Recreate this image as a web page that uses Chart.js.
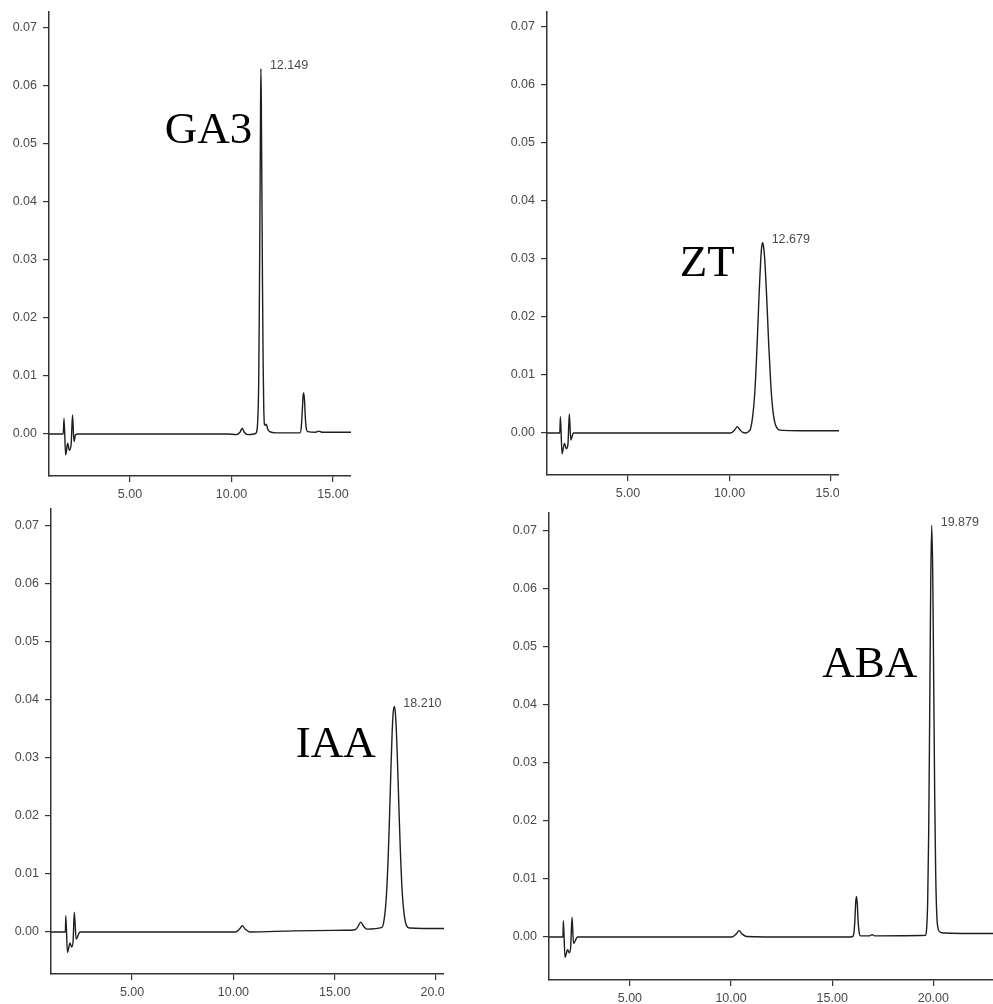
<!DOCTYPE html>
<html>
<head>
<meta charset="utf-8">
<script src="https://cdn.jsdelivr.net/npm/chart.js@4.4.1/dist/chart.umd.min.js"></script>
<style>
    html, body { margin: 0; padding: 0; background: #fff; }
    #page { position: relative; width: 993px; height: 1004px; overflow: hidden; }
    #page canvas { position: absolute; }
</style>
</head>
<body>
<div id="page">
    <canvas id="ga3Chart"></canvas>
    <canvas id="ztChart"></canvas>
    <canvas id="iaaChart"></canvas>
    <canvas id="abaChart"></canvas>
</div>
<script>
// retention time (min) and absorbance (AU)
var ga3Time = [1.0, 1.71, 1.75, 1.83, 1.93, 2.01, 2.10, 2.17, 2.24, 2.31, 2.40, 6.0, 9.8, 10.25, 10.42, 10.53, 10.63, 10.80, 11.10,
    11.22, 11.26, 11.30, 11.34, 11.37, 11.40, 11.43, 11.45, 11.47, 11.50, 11.53, 11.56, 11.59, 11.63, 11.68, 11.72, 11.78, 11.88, 12.20,
    13.38, 13.44, 13.49, 13.53, 13.56, 13.60, 13.64, 13.69, 13.76, 14.15, 14.30, 14.45, 15.9];
var ga3Abs = [0, 0, 0.0027, -0.0036, -0.0016, -0.0028, -0.0018, 0.0033, -0.0013, -0.0002, 0, 0, 0, -0.0001, 0.0003, 0.0010, 0.0003, -0.0001, 0,
    0.0002, 0.0007, 0.0027, 0.0085, 0.0200, 0.0360, 0.0535, 0.0630, 0.0575, 0.0415, 0.0255, 0.0125, 0.0048, 0.0016, 0.0015, 0.0017, 0.0009, 0.0004, 0.0002,
    0.0002, 0.0012, 0.0040, 0.0066, 0.0071, 0.0058, 0.0028, 0.0009, 0.0004, 0.0003, 0.0005, 0.0003, 0.0003];

var ztTime = [1.0, 1.64, 1.67, 1.75, 1.87, 1.96, 2.04, 2.11, 2.18, 2.31, 6.0, 10.05, 10.25, 10.38, 10.50, 10.65, 10.80, 10.95,
    11.03, 11.13, 11.23, 11.28, 11.33, 11.38, 11.43, 11.48, 11.53, 11.58, 11.63, 11.68, 11.73, 11.78, 11.83, 11.88, 11.93,
    12.03, 12.13, 12.23, 12.33, 12.48, 13.5, 15.4];
var ztAbs = [0, 0, 0.0028, -0.0036, -0.0018, -0.0027, -0.0020, 0.0033, -0.0012, 0, 0, 0, 0.0005, 0.0011, 0.0006, 0.0001, 0, 0.0003,
    0.0007, 0.0026, 0.0063, 0.0093, 0.0130, 0.0172, 0.0217, 0.0259, 0.0295, 0.0320, 0.0328, 0.0320, 0.0301, 0.0270, 0.0233, 0.0193, 0.0152,
    0.0084, 0.0040, 0.0018, 0.0009, 0.0005, 0.0004, 0.0004];

var iaaTime = [1.0, 1.71, 1.73, 1.81, 1.94, 2.02, 2.09, 2.15, 2.24, 2.43, 6.0, 10.1, 10.30, 10.44, 10.58, 10.82, 13.0, 15.5,
    16.0, 16.12, 16.29, 16.42, 16.58, 17.33, 17.43, 17.53, 17.58, 17.63, 17.68, 17.73, 17.78, 17.83, 17.88, 17.94,
    17.99, 18.04, 18.09, 18.14, 18.19, 18.24, 18.29, 18.34, 18.44, 18.54, 18.69, 20.4];
var iaaAbs = [0, 0, 0.0028, -0.0035, -0.0019, -0.0026, -0.0016, 0.0034, -0.0012, 0, 0, 0, 0.0005, 0.0011, 0.0005, 0, 0.0002, 0.0003,
    0.0004, 0.0008, 0.0017, 0.0010, 0.0005, 0.0008, 0.0020, 0.0053, 0.0083, 0.0123, 0.0174, 0.0232, 0.0291, 0.0342, 0.0377, 0.0389,
    0.0378, 0.0346, 0.0299, 0.0244, 0.0188, 0.0137, 0.0095, 0.0063, 0.0026, 0.0011, 0.0007, 0.0006];

var abaTime = [1.0, 1.69, 1.71, 1.79, 1.92, 2.00, 2.07, 2.14, 2.21, 2.41, 6.0, 10.05, 10.25, 10.40, 10.55, 10.76, 13.0, 15.9,
    16.02, 16.08, 16.12, 16.16, 16.20, 16.24, 16.28, 16.33, 16.40, 16.85, 16.98, 17.10,
    19.62, 19.67, 19.72, 19.77, 19.82, 19.87, 19.92, 19.97, 20.02, 20.07, 20.12, 20.17, 20.22, 20.32, 20.50, 23.0];
var abaAbs = [0, 0, 0.0028, -0.0035, -0.0022, -0.0027, -0.0018, 0.0034, -0.0011, 0, 0, 0, 0.0005, 0.0011, 0.0005, 0.0001, 0, 0,
    0.0001, 0.0009, 0.0028, 0.0058, 0.0070, 0.0058, 0.0028, 0.0009, 0.0002, 0.0002, 0.0004, 0.0002,
    0.0003, 0.0015, 0.0060, 0.0177, 0.0382, 0.0607, 0.0710, 0.0629, 0.0435, 0.0236, 0.0103, 0.0039, 0.0017, 0.0009, 0.0007, 0.0006];

var yTicks = [0, 0.01, 0.02, 0.03, 0.04, 0.05, 0.06, 0.07];
var xTicksShort = [5, 10, 15];
var xTicksLong = [5, 10, 15, 20];

// compound name, its label anchor, and the retention time printed at the apex
var names = ['GA3', 'ZT', 'IAA', 'ABA'];
var nameAnchors = [[11.03, 0.0502], [10.25, 0.0271], [17.02, 0.0302], [19.21, 0.0448]];
var apexText = ['12.149', '12.679', '18.210', '19.879'];
var apexPoints = [[11.45, 0.0630], [11.63, 0.0328], [17.94, 0.0389], [19.92, 0.0710]];

Chart.defaults.font.family = '"Liberation Sans", Arial, sans-serif';
Chart.defaults.color = '#4a4a4a';

var labelsPlugin = {
    id: 'peakNotes',
    afterDatasetsDraw: function (chart, args, o) {
        var ctx = chart.ctx, x = chart.scales.x, y = chart.scales.y;
        ctx.save();
        ctx.fillStyle = '#000';
        ctx.font = '45px "Liberation Serif", "Times New Roman", serif';
        ctx.textAlign = 'right';
        ctx.textBaseline = 'alphabetic';
        ctx.fillText(o.name, x.getPixelForValue(o.anchor[0]), y.getPixelForValue(o.anchor[1]));
        ctx.fillStyle = '#4a4a4a';
        ctx.font = '12.5px "Liberation Sans", Arial, sans-serif';
        ctx.textAlign = 'left';
        ctx.textBaseline = 'middle';
        ctx.fillText(o.rt, x.getPixelForValue(o.apex[0]) + 9, y.getPixelForValue(o.apex[1]) - 3);
        ctx.restore();
    }
};

// canvas box and plot box in page pixels
var panels = [
    { id: 'ga3Chart', box: [0, 0, 351, 505], plot: [49, 12, 351, 476], xr: [1.01, 15.89], yr: [-0.00724, 0.07276], t: ga3Time, a: ga3Abs, xt: xTicksShort },
    { id: 'ztChart', box: [500, 0, 339, 505], plot: [547, 12, 839, 475], xr: [1.01, 15.39], yr: [-0.00724, 0.07259], t: ztTime, a: ztAbs, xt: xTicksShort },
    { id: 'iaaChart', box: [0, 500, 444, 504], plot: [51, 509, 444, 974], xr: [1.0, 20.39], yr: [-0.00724, 0.07293], t: iaaTime, a: iaaAbs, xt: xTicksLong },
    { id: 'abaChart', box: [500, 500, 493, 504], plot: [549, 513, 993, 980], xr: [1.0, 22.95], yr: [-0.00741, 0.0731], t: abaTime, a: abaAbs, xt: xTicksLong }
];

panels.forEach(function (p, i) {
    var canvas = document.getElementById(p.id);
    canvas.width = p.box[2];
    canvas.height = p.box[3];
    canvas.style.left = p.box[0] + 'px';
    canvas.style.top = p.box[1] + 'px';
    canvas.style.width = p.box[2] + 'px';
    canvas.style.height = p.box[3] + 'px';

    var yWidth = p.plot[0] - p.box[0];
    var xHeight = p.box[1] + p.box[3] - p.plot[3];
    var padTop = p.plot[1] - p.box[1];
    var padRight = p.box[0] + p.box[2] - p.plot[2];

    new Chart(canvas.getContext('2d'), {
        type: 'line',
        data: {
            datasets: [{
                data: p.t.map(function (t, k) { return { x: t, y: p.a[k] }; }),
                borderColor: '#1e1e1e',
                borderWidth: 1.4,
                pointRadius: 0,
                fill: false,
                cubicInterpolationMode: 'monotone'
            }]
        },
        options: {
            responsive: false,
            animation: false,
            events: [],
            layout: { padding: { top: padTop, right: padRight, left: 0, bottom: 0 } },
            plugins: {
                legend: { display: false },
                tooltip: { enabled: false },
                peakNotes: { name: names[i], anchor: nameAnchors[i], rt: apexText[i], apex: apexPoints[i] }
            },
            scales: {
                x: {
                    type: 'linear',
                    min: p.xr[0],
                    max: p.xr[1],
                    bounds: 'data',
                    afterBuildTicks: function (s) { s.ticks = p.xt.map(function (v) { return { value: v }; }); },
                    afterFit: function (s) { s.height = xHeight; s.paddingLeft = 0; s.paddingRight = 0; },
                    grid: { drawOnChartArea: false, drawTicks: true, tickLength: 6, color: '#333', lineWidth: 1.2 },
                    border: { display: true, color: '#333', width: 1.5 },
                    ticks: {
                        padding: 5,
                        maxRotation: 0,
                        autoSkip: false,
                        font: { size: 12.5 },
                        callback: function (v) { return Number(v).toFixed(2); }
                    }
                },
                y: {
                    min: p.yr[0],
                    max: p.yr[1],
                    bounds: 'data',
                    afterBuildTicks: function (s) { s.ticks = yTicks.map(function (v) { return { value: v }; }); },
                    afterFit: function (s) { s.width = yWidth; s.paddingTop = 0; s.paddingBottom = 0; },
                    grid: { drawOnChartArea: false, drawTicks: true, tickLength: 6, color: '#333', lineWidth: 1.2 },
                    border: { display: true, color: '#333', width: 1.5 },
                    ticks: {
                        padding: 6,
                        autoSkip: false,
                        font: { size: 12.5 },
                        callback: function (v) { return Number(v).toFixed(2); }
                    }
                }
            }
        },
        plugins: [labelsPlugin]
    });
});
</script>
</body>
</html>
